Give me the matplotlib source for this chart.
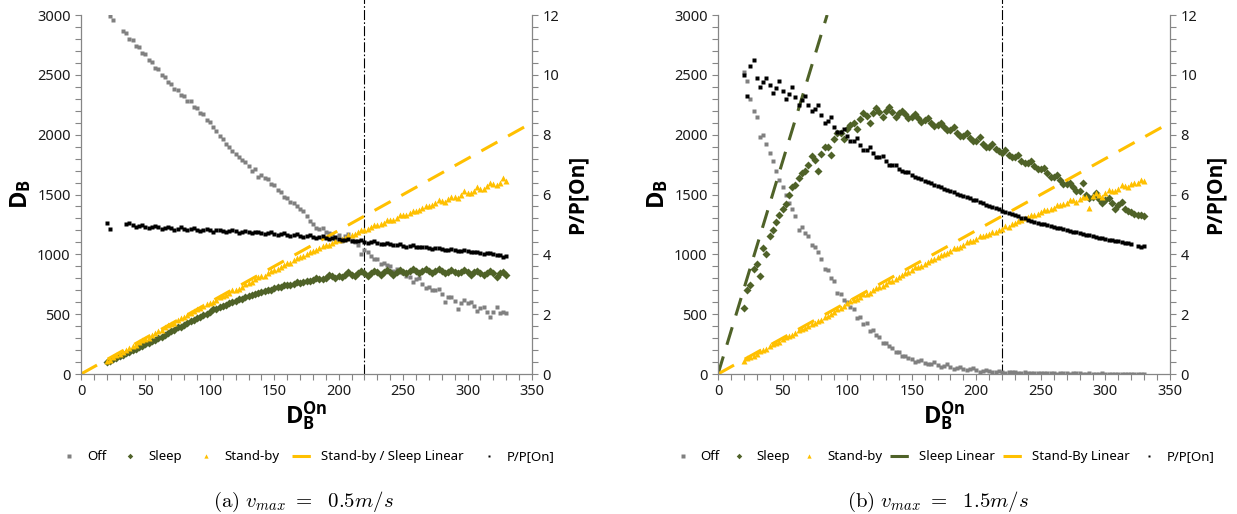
import numpy as np
import matplotlib
matplotlib.use("Agg")
import matplotlib.pyplot as plt
from matplotlib.ticker import MultipleLocator

plt.rcParams['font.family'] = ['Noto Sans', 'DejaVu Sans']
plt.rcParams['mathtext.fontset'] = 'custom'
plt.rcParams['mathtext.rm'] = 'Open Sans'
plt.rcParams['mathtext.bf'] = 'Open Sans:bold'
plt.rcParams['mathtext.it'] = 'Open Sans:italic'

nan = np.nan

# x positions (D_B^On): two interleaved sampling grids
x_vals = [20, 25, 30, 35, 40, 45, 50, 55, 60, 65, 70, 75, 80, 85, 90, 95, 100,
          105, 110, 115, 120, 125, 130, 135, 140, 145, 150, 155, 160, 165, 170,
          175, 180, 185, 190, 195, 200, 205, 210, 215, 220, 225, 230, 235, 240,
          245, 250, 255, 260, 265, 270, 275, 280, 285, 290, 295, 300, 305, 310,
          315, 320, 325, 330]
x_vals2 = [22.5, 27.5, 32.5, 37.5, 42.5, 47.5, 52.5, 57.5, 62.5, 67.5, 72.5, 77.5,
           82.5, 87.5, 92.5, 97.5, 102.5, 107.5, 112.5, 117.5, 122.5, 127.5, 132.5,
           137.5, 142.5, 147.5, 152.5, 157.5, 162.5, 167.5, 172.5, 177.5, 182.5,
           187.5, 192.5, 197.5, 202.5, 207.5, 212.5, 217.5, 222.5, 227.5, 232.5,
           237.5, 242.5, 247.5, 252.5, 257.5, 262.5, 267.5, 272.5, 277.5, 282.5,
           287.5, 292.5, 297.5, 302.5, 307.5, 312.5, 317.5, 322.5, 327.5]

# ---- panel (a): v_max = 0.5 m/s ----
off_a = [nan, 2960, nan, 2850, 2790, 2730, 2670, 2610, 2550, 2480, 2420, 2370, 2320,
         2280, 2220, 2170, 2110, 2030, 1960, 1900, 1840, 1790, 1740, 1710, 1660, 1630,
         1580, 1520, 1470, 1430, 1380, 1320, 1250, 1210, 1190, 1170, 1160, 1150, 1120,
         1080, 1040, 990, 960, 930, 900, 880, 840, 810, 790, 750, 730, 700, 670, 640,
         610, 590, 590, 570, 550, 520, 520, 510, 510]
off_a2 = [2990, nan, 2870, 2800, 2740, 2680, 2620, 2560, 2500, 2440, 2380, 2330, 2280,
          2230, 2180, 2120, 2060, 1990, 1920, 1860, 1810, 1770, 1700, 1650, 1640, 1590,
          1540, 1480, 1440, 1400, 1360, 1280, 1220, 1220, 1180, 1130, 1110, 1170, 1100,
          1000, 1020, 960, 920, 910, 860, 850, 820, 770, 800, 720, 700, 710, 600, 640,
          540, 620, 600, 530, 560, 480, 560, 520]
sleep_a = [100, 125, 150, 175, 200, 225, 250, 275, 300, 330, 360, 390, 410, 440, 470,
           495, 520, 545, 570, 590, 610, 630, 650, 670, 685, 700, 715, 725, 740, 750,
           760, 775, 785, 795, 805, 815, 820, 825, 830, 840, 840, 845, 850, 850, 855,
           855, 855, 860, 860, 860, 860, 860, 860, 855, 855, 855, 850, 850, 845, 845,
           840, 840, 830]
sleep_a2 = [110, 135, 160, 185, 210, 235, 260, 285, 310, 340, 370, 395, 425, 450, 480,
            505, 540, 560, 580, 600, 625, 640, 660, 680, 695, 705, 730, 740, 745, 765,
            770, 780, 800, 790, 830, 800, 810, 850, 820, 860, 820, 860, 830, 870, 830,
            870, 840, 880, 840, 880, 840, 880, 840, 870, 840, 870, 830, 860, 830, 860,
            810, 850]
standby_a = [110, 140, 170, 200, 235, 265, 295, 325, 360, 390, 420, 450, 480, 510, 540,
             565, 590, 620, 650, 680, 705, 730, 760, 790, 815, 840, 870, 895, 925, 950,
             980, 1000, 1025, 1050, 1075, 1095, 1120, 1140, 1165, 1185, 1205, 1225,
             1245, 1265, 1285, 1305, 1325, 1345, 1365, 1385, 1405, 1425, 1445, 1460,
             1480, 1500, 1515, 1530, 1550, 1570, 1585, 1600, 1610]
standby_a2 = [120, 160, 180, 220, 245, 280, 305, 345, 370, 410, 430, 470, 490, 530, 550,
              585, 600, 645, 660, 700, 710, 750, 770, 810, 820, 860, 880, 915, 930, 970,
              985, 1020, 1035, 1070, 1080, 1115, 1125, 1160, 1170, 1200, 1210, 1245,
              1250, 1285, 1290, 1325, 1330, 1365, 1370, 1405, 1410, 1450, 1440, 1480,
              1470, 1530, 1510, 1560, 1550, 1600, 1580, 1640]
pp_a = [5.05, nan, nan, 5.00, 4.98, 4.95, 4.93, 4.92, 4.90, 4.88, 4.87, 4.86, 4.85,
        4.84, 4.83, 4.82, 4.81, 4.80, 4.79, 4.78, 4.77, 4.76, 4.75, 4.73, 4.72, 4.70,
        4.68, 4.67, 4.65, 4.63, 4.61, 4.60, 4.58, 4.57, 4.55, 4.53, 4.50, 4.48, 4.46,
        4.44, 4.42, 4.40, 4.37, 4.35, 4.33, 4.31, 4.29, 4.27, 4.26, 4.24, 4.22, 4.20,
        4.18, 4.16, 4.14, 4.12, 4.10, 4.08, 4.05, 4.03, 4.00, 3.97, 3.93]
pp_a2 = [4.85, nan, nan, 5.05, 4.93, 4.98, 4.88, 4.95, 4.85, 4.92, 4.83, 4.90, 4.80,
         4.88, 4.78, 4.85, 4.76, 4.83, 4.74, 4.81, 4.72, 4.79, 4.70, 4.76, 4.67, 4.73,
         4.64, 4.70, 4.61, 4.67, 4.57, 4.63, 4.55, 4.60, 4.52, 4.57, 4.47, 4.52, 4.43,
         4.48, 4.39, 4.43, 4.34, 4.38, 4.30, 4.34, 4.26, 4.30, 4.23, 4.26, 4.19, 4.22,
         4.15, 4.18, 4.11, 4.14, 4.07, 4.09, 4.02, 4.05, 3.98, 3.92]
lin_a_x = [0, 350]
lin_a_y = [0, 2100]

# ---- panel (b): v_max = 1.5 m/s ----
off_b = [2520, 2300, 2150, 2000, 1850, 1700, 1560, 1430, 1320, 1230, 1150, 1060, 960,
         870, 780, 670, 600, 540, 480, 430, 370, 310, 260, 220, 185, 150, 125, 110, 95,
         85, 75, 65, 55, 50, 45, 38, 30, 26, 22, 19, 17, 15, 13, 12, 11, 10, 9, 8, 7,
         6, 6, 5, 5, 4, 4, 3, 3, 3, 2, 2, 2, 2, 2]
off_b2 = [2450, 2200, 1980, 1920, 1780, 1620, 1500, 1380, 1200, 1180, 1080, 1020, 880,
          800, 680, 620, 560, 470, 420, 360, 330, 260, 230, 180, 150, 130, 100, 120, 80,
          100, 60, 80, 40, 60, 30, 50, 20, 35, 15, 25, 10, 20, 8, 15, 6, 12, 5, 10, 4, 8,
          3, 7, 3, 6, 2, 5, 2, 4, 1, 3, 1, 3]
sleep_b = [550, 740, 920, 1050, 1150, 1270, 1380, 1500, 1580, 1680, 1750, 1790, 1840,
           1900, 1960, 2010, 2050, 2100, 2130, 2160, 2180, 2190, 2200, 2190, 2180, 2170,
           2150, 2140, 2120, 2100, 2080, 2060, 2040, 2010, 1990, 1970, 1950, 1920, 1900,
           1880, 1850, 1830, 1810, 1780, 1760, 1740, 1710, 1680, 1650, 1620, 1590, 1560,
           1530, 1500, 1480, 1460, 1450, 1430, 1410, 1380, 1350, 1330, 1320]
sleep_b2 = [700, 880, 820, 1000, 1200, 1330, 1420, 1560, 1640, 1700, 1820, 1700, 1900,
            1830, 2010, 1960, 2080, 2050, 2180, 2100, 2220, 2150, 2230, 2150, 2200, 2140,
            2170, 2110, 2140, 2070, 2100, 2040, 2060, 1990, 2010, 1950, 1980, 1900, 1920,
            1860, 1870, 1810, 1830, 1760, 1780, 1710, 1720, 1650, 1660, 1590, 1600, 1530,
            1600, 1470, 1510, 1430, 1470, 1380, 1440, 1360, 1340, 1330]
standby_b = [110, 140, 170, 200, 230, 260, 290, 320, 345, 375, 400, 430, 455, 485, 520,
             555, 590, 620, 645, 670, 700, 725, 750, 780, 810, 840, 870, 895, 920, 950,
             980, 1000, 1030, 1055, 1080, 1110, 1130, 1150, 1170, 1190, 1210, 1230, 1260,
             1290, 1310, 1330, 1350, 1370, 1390, 1410, 1430, 1450, 1460, 1480, 1490, 1500,
             1510, 1530, 1550, 1570, 1590, 1600, 1610]
standby_b2 = [130, 150, 190, 210, 250, 270, 310, 330, 365, 385, 420, 440, 475, 500, 545,
              570, 610, 630, 665, 680, 720, 735, 775, 790, 830, 850, 890, 905, 940, 960,
              995, 1010, 1050, 1065, 1100, 1115, 1150, 1160, 1190, 1200, 1240, 1250, 1280,
              1300, 1330, 1340, 1370, 1380, 1410, 1420, 1450, 1440, 1480, 1390, 1510, 1480,
              1540, 1530, 1580, 1560, 1600, 1620]
pp_b = [10.0, 10.3, 9.90, 9.75, 9.65, 9.55, 9.45, 9.35, 9.25, 9.15, 9.00, 8.85, 8.65,
        8.45, 8.25, 8.08, 7.95, 7.80, 7.65, 7.50, 7.38, 7.25, 7.12, 6.98, 6.85, 6.75,
        6.65, 6.55, 6.46, 6.37, 6.28, 6.20, 6.12, 6.03, 5.95, 5.87, 5.80, 5.70, 5.62,
        5.54, 5.45, 5.37, 5.30, 5.23, 5.16, 5.09, 5.03, 4.97, 4.92, 4.87, 4.81, 4.76,
        4.71, 4.66, 4.61, 4.56, 4.51, 4.47, 4.43, 4.39, 4.36, 4.29, 4.27]
pp_b2 = [9.3, 10.5, 9.6, 9.9, 9.4, 9.8, 9.2, 9.6, 9.0, 9.3, 8.8, 9.0, 8.4, 8.6, 8.1,
         8.2, 7.8, 7.9, 7.5, 7.6, 7.25, 7.3, 7.0, 7.0, 6.8, 6.75, 6.58, 6.52, 6.42, 6.33,
         6.24, 6.16, 6.08, 5.99, 5.91, 5.83, 5.75, 5.66, 5.58, 5.50, 5.41, 5.34, 5.27,
         5.20, 5.13, 5.06, 5.00, 4.95, 4.89, 4.84, 4.79, 4.74, 4.68, 4.63, 4.58, 4.54,
         4.49, 4.45, 4.41, 4.38, nan, 4.25]
sleep_lin_b_x = [0, 84.5]
sleep_lin_b_y = [0, 3000]
standby_lin_b_x = [0, 350]
standby_lin_b_y = [0, 2100]

threshold_x = 220

C_OFF = '#808080'
C_SLEEP = '#4f6228'
C_SB = '#ffc000'
C_PP = '#000000'
C_SPINE = '#868686'

fig = plt.figure(figsize=(12.37, 5.14), dpi=100)


def style_axes(ax, ax2):
    ax.set_xlim(0, 350)
    ax.set_ylim(0, 3000)
    ax2.set_ylim(0, 12)
    ax.xaxis.set_major_locator(MultipleLocator(50))
    ax.xaxis.set_minor_locator(MultipleLocator(10))
    ax.yaxis.set_major_locator(MultipleLocator(500))
    ax.yaxis.set_minor_locator(MultipleLocator(100))
    ax2.yaxis.set_major_locator(MultipleLocator(2))
    ax2.yaxis.set_minor_locator(MultipleLocator(0.4))
    for a in (ax, ax2):
        a.spines['top'].set_visible(False)
        for s in ('left', 'right', 'bottom'):
            a.spines[s].set_color(C_SPINE)
            a.spines[s].set_linewidth(0.9)
        a.tick_params(which='both', direction='out', color=C_SPINE, length=4,
                      width=0.8, labelsize=10.5, labelcolor='#1a1a1a')
    ax.spines['right'].set_visible(False)
    ax2.spines['left'].set_visible(False)
    ax2.spines['bottom'].set_visible(False)
    ax.set_ylabel(r'$\mathbf{D_B}$', fontsize=17, labelpad=3)
    ax.set_xlabel(r'$\mathbf{D_B^{On}}$', fontsize=17, labelpad=0)
    ax2.set_ylabel('P/P[On]', fontsize=15, fontweight='bold', family='Open Sans',
                   labelpad=5)
    ax.axvline(threshold_x, ymin=0, ymax=1.045, color='black', lw=0.8,
               linestyle=(0, (9, 2, 1.5, 2)), clip_on=False, zorder=1)


ms_off, ms_sleep, ms_sb, ms_pp = 3.2, 4.0, 4.4, 2.6
leg_kw = dict(loc='center', frameon=False, fontsize=9.5, handlelength=1.7,
              handletextpad=0.5, markerscale=0.7)


def scatter_pair(a, xs1, ys1, xs2, ys2, marker, color, ms, label):
    h, = a.plot(xs1, ys1, marker, color=color, ms=ms, mec='none', label=label)
    a.plot(xs2, ys2, marker, color=color, ms=ms, mec='none')
    return h


# Panel (a)
ax = fig.add_axes([81 / 1237, 140 / 514, 451 / 1237, 359 / 514])
ax2 = ax.twinx()
h1 = scatter_pair(ax, x_vals, off_a, x_vals2, off_a2, 's', C_OFF, ms_off, 'Off')
h2 = scatter_pair(ax, x_vals, sleep_a, x_vals2, sleep_a2, 'D', C_SLEEP, ms_sleep, 'Sleep')
h3 = scatter_pair(ax, x_vals, standby_a, x_vals2, standby_a2, '^', C_SB, ms_sb, 'Stand-by')
h4, = ax.plot(lin_a_x, lin_a_y, color=C_SB, lw=2.2, dashes=(6, 4),
              label='Stand-by / Sleep Linear')
h5 = scatter_pair(ax2, x_vals, pp_a, x_vals2, pp_a2, 's', C_PP, ms_pp, 'P/P[On]')
style_axes(ax, ax2)
fig.legend(handles=[h1, h2, h3, h4, h5], bbox_to_anchor=(306 / 1237, 0.111),
           ncol=5, columnspacing=1.0, **leg_kw)
fig.text(303 / 1237, 0.023, r'$\mathrm{(a)}\ v_{max}\ =\ \ 0.5m/s$', ha='center',
         va='center', fontsize=15, math_fontfamily='cm')

# Panel (b)
bx = fig.add_axes([718 / 1237, 140 / 514, 452 / 1237, 359 / 514])
bx2 = bx.twinx()
g1 = scatter_pair(bx, x_vals, off_b, x_vals2, off_b2, 's', C_OFF, ms_off, 'Off')
g2 = scatter_pair(bx, x_vals, sleep_b, x_vals2, sleep_b2, 'D', C_SLEEP, ms_sleep, 'Sleep')
g3 = scatter_pair(bx, x_vals, standby_b, x_vals2, standby_b2, '^', C_SB, ms_sb, 'Stand-by')
g4, = bx.plot(sleep_lin_b_x, sleep_lin_b_y, color=C_SLEEP, lw=2.2, dashes=(6, 4),
              label='Sleep Linear')
g5, = bx.plot(standby_lin_b_x, standby_lin_b_y, color=C_SB, lw=2.2, dashes=(6, 4),
              label='Stand-By Linear')
g6 = scatter_pair(bx2, x_vals, pp_b, x_vals2, pp_b2, 's', C_PP, ms_pp, 'P/P[On]')
style_axes(bx, bx2)
fig.legend(handles=[g1, g2, g3, g4, g5, g6], bbox_to_anchor=(943 / 1237, 0.111),
           ncol=6, columnspacing=0.6, **leg_kw)
fig.text(938 / 1237, 0.023, r'$\mathrm{(b)}\ v_{max}\ =\ \ 1.5m/s$', ha='center',
         va='center', fontsize=15, math_fontfamily='cm')

fig.savefig('out.png', dpi=100)
